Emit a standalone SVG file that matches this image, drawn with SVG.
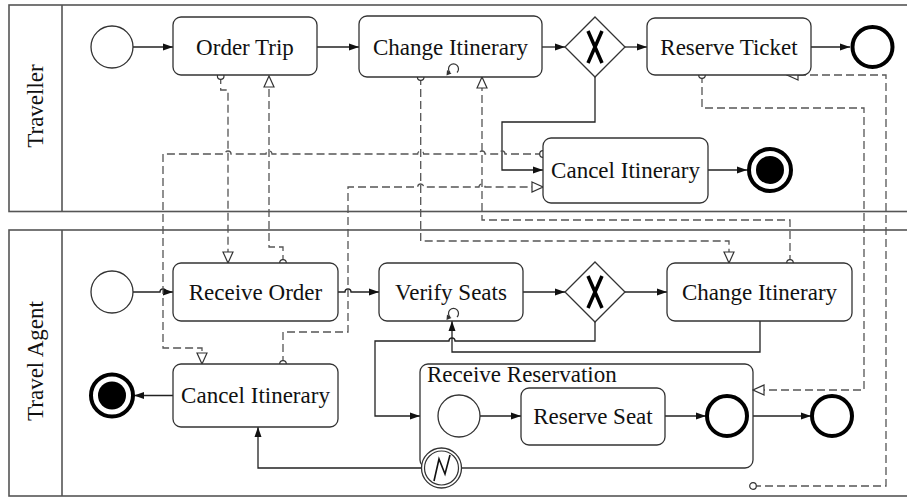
<svg xmlns="http://www.w3.org/2000/svg" width="907" height="497" viewBox="0 0 907 497">
<style>
.pool{fill:none;stroke:#555;stroke-width:1.6}
.box{fill:#fff;stroke:#333;stroke-width:1.3}
.ev{fill:#fff;stroke:#333;stroke-width:1.3}
.end{fill:#fff;stroke:#000;stroke-width:4}
.t{font-family:"Liberation Serif","Times New Roman",serif;font-size:23px;fill:#111;text-anchor:middle}
.seq{fill:none;stroke:#222;stroke-width:1.3;marker-end:url(#arr)}
.msg{fill:none;stroke:#555;stroke-width:1.3;stroke-dasharray:8 4;marker-start:url(#src);marker-end:url(#tri)}
</style>
<defs>
<marker id="arr" markerUnits="userSpaceOnUse" markerWidth="10" markerHeight="8" refX="10" refY="4" orient="auto" viewBox="0 0 10 8"><path d="M0,0.5 L10,4 L0,7.5 z" fill="#111" stroke="none"/></marker>
<marker id="tri" markerUnits="userSpaceOnUse" markerWidth="13" markerHeight="12" refX="12" refY="6" orient="auto" viewBox="0 0 13 12"><path d="M1,1 L12,6 L1,11 z" fill="#fff" stroke="#333" stroke-width="1.2" stroke-dasharray="none"/></marker>
<marker id="src" markerUnits="userSpaceOnUse" markerWidth="10" markerHeight="10" refX="5" refY="5" orient="auto" viewBox="0 0 10 10"><circle cx="5" cy="5" r="3.3" fill="#fff" stroke="#333" stroke-width="1.2" stroke-dasharray="none"/></marker>
</defs>

<g id="pool-traveller">
<rect class="pool" x="9" y="5" width="910" height="206.5"/>
<line class="pool" x1="62" y1="5" x2="62" y2="211.5"/>
<text class="t" transform="translate(42.5,106) rotate(-90)">Traveller</text>
</g>
<g id="pool-agent">
<rect class="pool" x="9" y="230" width="910" height="266"/>
<line class="pool" x1="62" y1="230" x2="62" y2="496"/>
<text class="t" transform="translate(42.5,361) rotate(-90)">Travel Agent</text>
</g>

<g id="connectors">
<!-- Traveller sequence flows -->
<path class="seq" d="M133,47 L173,47"/>
<path class="seq" d="M317,47 L359,47"/>
<path class="seq" d="M542,47 L565,47"/>
<path class="seq" d="M625,47 L647,47"/>
<path class="seq" d="M811,47 L850,47"/>
<path class="seq" d="M595,77 L595,122 L502,122 L502,170 L543,170"/>
<path class="seq" d="M708,170 L747,170"/>
<!-- Agent sequence flows -->
<path class="seq" d="M133,292 L160,292 A3,3 0 0 1 166,292 L173,292"/>
<path class="seq" d="M338,292 L345,292 A3,3 0 0 1 351,292 L379,292"/>
<path class="seq" d="M523,292 L565,292"/>
<path class="seq" d="M625,292 L667,292"/>
<path class="seq" d="M595,322 L595,341 L455,341 A3,3 0 0 0 449,341 L375,341 L375,416 L420,416"/>
<path class="seq" d="M760,321 L760,352 L452,352 L452,321"/>
<path class="seq" d="M173,395.5 L134,395.5"/>
<path class="seq" d="M421.5,468 L258,468 L258,427"/>
<path class="seq" d="M480,416 L521,416"/>
<path class="seq" d="M665,416 L706,416"/>
<path class="seq" d="M753,416 L811,416"/>
<!-- Message flows -->
<path class="msg" d="M220.7,76 L220.7,90 L228,90 L228,263"/>
<path class="msg" d="M283,263 L283,247 L269,247 L269,76"/>
<path class="msg" d="M543,154 L505,154 A3,3 0 0 0 499,154 L485,154 A3,3 0 0 0 479,154 L423.7,154 A3,3 0 0 0 417.7,154 L272,154 A3,3 0 0 0 266,154 L231,154 A3,3 0 0 0 225,154 L163,154 L163,348 L202,348 L202,364"/>
<path class="msg" d="M283,364 L283,332 L348,332 L348,187 L417.7,187 A3,3 0 0 1 423.7,187 L479,187 A3,3 0 0 1 485,187 L543,187"/>
<path class="msg" d="M420.7,77 L420.7,241 L729,241 L729,263"/>
<path class="msg" d="M790,263 L790,220 L482,220 L482,77"/>
<path class="msg" d="M702,75 L702,108 L864,108 L864,390 L753,390"/>
<path class="msg" d="M753,486 L886,486 L886,75 L787,75"/>
</g>

<g id="t-start"><circle class="ev" cx="112" cy="47" r="21"/></g>
<g id="t-order-trip"><rect class="box" x="173" y="17" width="144" height="58" rx="8"/><text class="t" x="245" y="54.5">Order Trip</text></g>
<g id="t-change-itinerary"><rect class="box" x="359" y="16" width="183" height="61" rx="8"/><text class="t" x="450.5" y="54.5">Change Itinerary</text>
<path d="M450,72.5 A5,5 0 1 1 457,72.5" fill="none" stroke="#333" stroke-width="1.2"/><path d="M447,70 L451.5,73.5 L446.5,75.5 z" fill="#333"/></g>
<g id="t-gateway"><path class="box" d="M595,17 L625,47 L595,77 L565,47 z"/><path d="M588,31 L602,63 M602,31 L588,63" stroke="#000" stroke-width="3.5" fill="none"/></g>
<g id="t-reserve-ticket"><rect class="box" x="647" y="18" width="164" height="57" rx="8"/><text class="t" x="729" y="54.5">Reserve Ticket</text></g>
<g id="t-end"><circle class="end" cx="872.5" cy="47" r="20"/></g>
<g id="t-cancel-itinerary"><rect class="box" x="543" y="138" width="165" height="65" rx="8"/><text class="t" x="625.5" y="178">Cancel Itinerary</text></g>
<g id="t-terminate"><circle class="end" cx="770" cy="170" r="21"/><circle cx="770" cy="170" r="14" fill="#000"/></g>

<g id="a-start"><circle class="ev" cx="112" cy="292" r="21"/></g>
<g id="a-receive-order"><rect class="box" x="173" y="263" width="165" height="58" rx="8"/><text class="t" x="255.5" y="300">Receive Order</text></g>
<g id="a-verify-seats"><rect class="box" x="379" y="263" width="144" height="58" rx="8"/><text class="t" x="451" y="300">Verify Seats</text>
<path d="M450,317 A5,5 0 1 1 457,317" fill="none" stroke="#333" stroke-width="1.2"/><path d="M447,314.5 L451.5,318 L446.5,320 z" fill="#333"/></g>
<g id="a-gateway"><path class="box" d="M595,262 L625,292 L595,322 L565,292 z"/><path d="M588,276 L602,308 M602,276 L588,308" stroke="#000" stroke-width="3.5" fill="none"/></g>
<g id="a-change-itinerary"><rect class="box" x="667" y="263" width="185" height="58" rx="8"/><text class="t" x="759.5" y="300">Change Itinerary</text></g>
<g id="a-cancel-itinerary"><rect class="box" x="173" y="364" width="165" height="63" rx="8"/><text class="t" x="255.5" y="403">Cancel Itinerary</text></g>
<g id="a-terminate"><circle class="end" cx="112" cy="395.5" r="21"/><circle cx="112" cy="395.5" r="14" fill="#000"/></g>
<g id="receive-reservation"><rect class="box" x="420" y="364" width="333" height="104" rx="8" fill="none" style="fill:none"/><text class="t" x="427" y="382" style="text-anchor:start">Receive Reservation</text></g>
<g id="s-start"><circle class="ev" cx="459" cy="416" r="21"/></g>
<g id="s-reserve-seat"><rect class="box" x="521" y="388" width="144" height="57" rx="8"/><text class="t" x="593" y="424">Reserve Seat</text></g>
<g id="s-end"><circle class="end" cx="727" cy="416" r="20"/></g>
<g id="a-end"><circle class="end" cx="832" cy="416" r="20"/></g>
<g id="error-event"><circle class="ev" cx="441.5" cy="468" r="20"/><circle fill="none" stroke="#333" stroke-width="1.2" cx="441.5" cy="468" r="17"/>
<path d="M434,481 L439,459 L445,474 L450,455" fill="none" stroke="#111" stroke-width="1.6"/></g>
</svg>
